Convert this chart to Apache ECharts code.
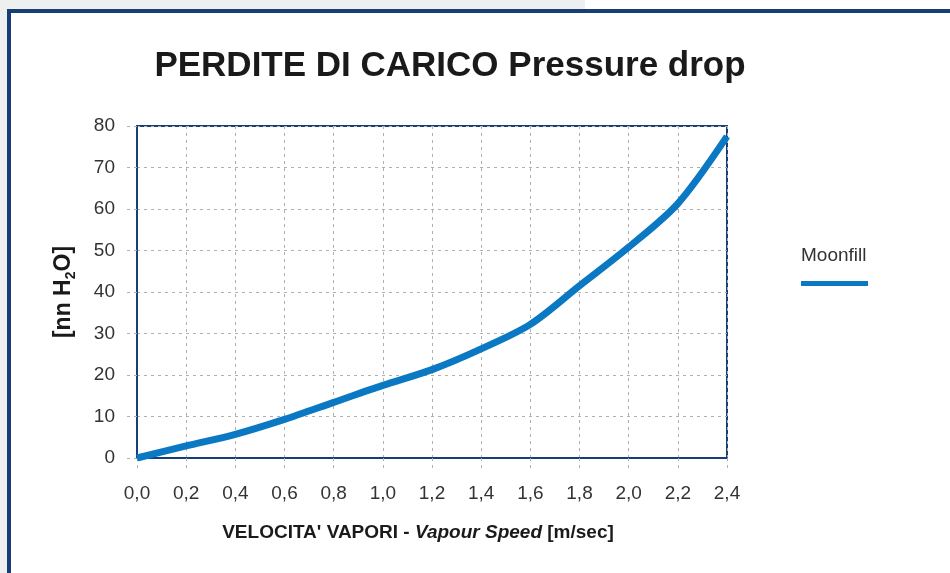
<!DOCTYPE html>
<html lang="it">
<head>
    <meta charset="UTF-8">
    <title>Perdite di carico</title>
    <script src="https://cdn.jsdelivr.net/npm/echarts@6/dist/echarts.min.js"></script>
    <style>
        html, body { margin: 0; padding: 0; background: #fff; }
        #chart { width: 950px; height: 573px; }
    </style>
</head>
<body>
    <div id="chart"></div>
    <script>
        // dati
        var seriesName = 'Moonfill';
        var speed = [0, 0.2, 0.4, 0.6, 0.8, 1.0, 1.2, 1.4, 1.6, 1.8, 2.0, 2.2, 2.4]; // m/sec
        var drop = [0, 2.9, 5.7, 9.3, 13.4, 17.5, 21.3, 26.3, 32.2, 41.5, 50.8, 61.3, 77.5]; // mm H2O

        var points = [];
        for (var i = 0; i < speed.length; i++) {
            points.push([speed[i], drop[i]]);
        }

        var blu = '#173f75';
        var font = 'Liberation Sans, Arial, sans-serif';

        var myChart = echarts.init(document.getElementById('chart'));
        var option = {
            backgroundColor: '#fff',
            animation: false,
            textStyle: { fontFamily: font },
            graphic: [
                // cornice
                { type: 'rect', silent: true, shape: { x: 0, y: 0, width: 585, height: 9 }, style: { fill: '#eef0ef' } },
                { type: 'rect', silent: true, shape: { x: 0, y: 0, width: 7, height: 573 }, style: { fill: '#eef0ef' } },
                { type: 'rect', silent: true, shape: { x: 7, y: 9, width: 943, height: 4 }, style: { fill: blu } },
                { type: 'rect', silent: true, shape: { x: 7, y: 9, width: 4, height: 564 }, style: { fill: blu } }
            ],
            title: [{
                text: 'PERDITE DI CARICO Pressure drop',
                left: 450,
                top: 49,
                padding: 0,
                textAlign: 'center',
                textStyle: { fontSize: 35, fontWeight: 'bold', color: '#1a1a1a', fontFamily: font }
            }, {
                text: seriesName,
                left: 801,
                top: 246,
                padding: 0,
                textStyle: { fontSize: 19, fontWeight: 'normal', color: '#333', fontFamily: font }
            }],
            legend: {
                data: [seriesName],
                left: 801,
                top: 281,
                padding: 0,
                icon: 'rect',
                itemWidth: 67,
                itemHeight: 5,
                formatter: function () { return ''; }
            },
            grid: {
                left: 137,
                right: 223,
                top: 126,
                bottom: 115,
                show: true,
                borderColor: blu,
                borderWidth: 2
            },
            xAxis: {
                type: 'value',
                min: 0,
                max: 2.4,
                interval: 0.2,
                name: '{b|VELOCITA\' VAPORI - }{i|Vapour Speed}{b| [m/sec]}',
                nameLocation: 'middle',
                nameGap: 65,
                nameTextStyle: {
                    padding: [0, 28, 0, 0],
                    rich: {
                        b: { fontSize: 19, fontWeight: 'bold', color: '#1a1a1a', fontFamily: font },
                        i: { fontSize: 19, fontStyle: 'italic', fontWeight: 'bold', color: '#1a1a1a', fontFamily: font }
                    }
                },
                axisLine: { show: true, lineStyle: { color: blu, width: 2 } },
                axisTick: { show: true, length: 10, lineStyle: { color: '#b0b0b0', type: [3, 4] } },
                axisLabel: {
                    fontSize: 19,
                    color: '#333',
                    margin: 26,
                    formatter: function (v) { return v.toFixed(1).replace('.', ','); }
                },
                splitLine: { show: true, lineStyle: { color: '#b0b0b0', type: [3, 4] } }
            },
            yAxis: {
                type: 'value',
                min: 0,
                max: 80,
                interval: 10,
                name: '{b|[nn H}{s|2}{b|O]}',
                nameLocation: 'middle',
                nameGap: 59,
                nameRotate: 90,
                nameTextStyle: {
                    rich: {
                        b: { fontSize: 23, fontWeight: 'bold', color: '#1a1a1a', lineHeight: 28, fontFamily: font },
                        s: { fontSize: 14, fontWeight: 'bold', color: '#1a1a1a', lineHeight: 12, verticalAlign: 'bottom', fontFamily: font }
                    }
                },
                axisLine: { show: true, lineStyle: { color: blu, width: 2 } },
                axisTick: { show: true, length: 10, lineStyle: { color: '#b0b0b0', type: [3, 4] } },
                axisLabel: { fontSize: 19, color: '#333', margin: 22 },
                splitLine: { show: true, lineStyle: { color: '#b0b0b0', type: [3, 4] } }
            },
            series: [{
                name: seriesName,
                type: 'line',
                data: points,
                smooth: 0.3,
                showSymbol: false,
                lineStyle: { color: '#0a78c2', width: 7 },
                itemStyle: { color: '#0a78c2' }
            }]
        };
        myChart.setOption(option);
    </script>
</body>
</html>
